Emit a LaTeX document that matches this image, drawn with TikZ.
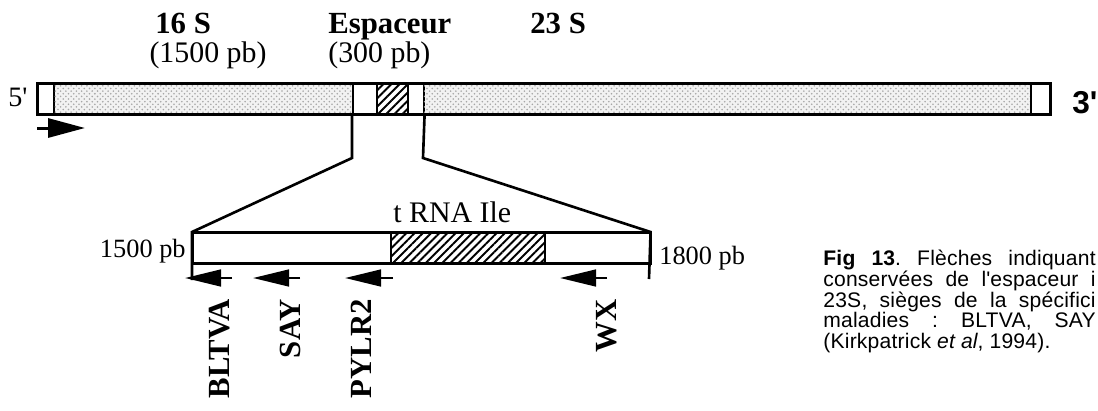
\documentclass[tikz,border=0pt]{standalone}
\usepackage{fontspec}
\setmainfont{Liberation Serif}
\newfontfamily\capfont{Liberation Sans}[LetterSpace=1]
\newfontfamily\endfont{Liberation Sans}
\usepackage{tikz}
\usetikzlibrary{arrows.meta, patterns, patterns.meta}
\frenchspacing
\tikzset{
  rrnseg/.style={
    draw, line width=0.9pt, inner sep=0pt, anchor=north west,
    minimum height=30*0.02cm, fill=white
  },
  stipple/.style={
    fill=gray!10, postaction={pattern=crosshatch dots, pattern color=gray!70}
  },
  hatchbox/.style={
    postaction={pattern={Lines[angle=45, distance=3.3pt, line width=1.1pt]}}
  },
  baroutline/.style={line width=1.5pt},
  zoomline/.style={line width=1.5pt, line join=miter},
  primerbig/.style={
    line width=1.7pt, -{Triangle[length=21pt, width=10.8pt]}
  },
  primer/.style={
    line width=1.4pt, -{Triangle[length=20.5pt, width=9.5pt]}
  },
  primerlabel/.style={
    font=\fontsize{17.5}{20}\selectfont\bfseries,
    rotate=90, anchor=east, inner sep=0pt
  },
  regiontitle/.style={
    font=\fontsize{17.5}{20}\selectfont\bfseries, inner sep=0pt
  },
  regionsize/.style={
    font=\fontsize{17}{20}\selectfont, inner sep=0pt
  },
  poslabel/.style={
    font=\fontsize{15}{18}\selectfont, inner sep=0pt
  },
  captionline/.style={
    font=\capfont\fontsize{12}{12}\selectfont, inner sep=0pt,
    anchor=base west
  },
}

\begin{document}
\begin{tikzpicture}[x=0.02cm, y=-0.02cm]
  \useasboundingbox (0,0) rectangle (1098,410);
  \clip (0,0) rectangle (1098,410);

  % ── Region titles ──────────────────────────────────────────────
  \node[regiontitle, anchor=base west] (t16) at (155,33) {16 S};
  \node[regionsize, anchor=base] (t16n) at (208,62) {(1500 pb)};
  \node[regiontitle, anchor=base west] (tesp) at (328,33) {Espaceur};
  \node[regionsize, anchor=base west] (tespn) at (328,62) {(300 pb)};
  \node[regiontitle, anchor=base west] (t23) at (530,33) {23 S};

  % ── Operon (top bar) ───────────────────────────────────────────
  \node[rrnseg, minimum width=16*0.02cm] (c5) at (37,83) {};
  \node[rrnseg, stipple, minimum width=299*0.02cm] (r16) at (53,83) {};
  \node[rrnseg, minimum width=24*0.02cm] (spA) at (352,83) {};
  \node[rrnseg, hatchbox, minimum width=31*0.02cm] (ileA) at (376,83) {};
  \node[rrnseg, minimum width=16*0.02cm] (spB) at (407,83) {};
  \node[rrnseg, stipple, minimum width=607*0.02cm] (r23) at (423,83) {};
  \node[rrnseg, minimum width=19*0.02cm] (c3) at (1030,83) {};
  \draw[baroutline] (c5.north west) rectangle (c3.south east);

  \node[font=\fontsize{16}{18}\selectfont, inner sep=0pt, anchor=base west]
    (end5) at (8,106) {5\textquotesingle};
  \node[font=\endfont\fontsize{18}{20}\selectfont\bfseries, inner sep=0pt,
        anchor=base west]
    (end3) at (1072,113) {3\textquotesingle};

  \coordinate (f5) at (37,128);
  \coordinate (f5tip) at (85,128);
  \draw[primerbig] (f5) -- (f5tip);

  % ── Spacer (enlarged) ──────────────────────────────────────────
  \node[rrnseg, minimum width=198*0.02cm] (insL) at (192,232) {};
  \node[rrnseg, hatchbox, minimum width=154*0.02cm] (trna) at (390,232) {};
  \node[rrnseg, minimum width=105*0.02cm] (insR) at (544,232) {};
  \draw[baroutline] (insL.north west) rectangle (insR.south east);

  \node[regionsize, anchor=base west] (trnalab) at (393,222) {t RNA Ile};
  \node[poslabel, anchor=base east] (pos1500) at (186,257) {1500 pb};
  \node[poslabel, anchor=base west] (pos1800) at (659,264) {1800 pb};

  % zoom lines
  \coordinate (bendL) at (352,158);
  \coordinate (bendR) at (423,158);
  \coordinate (tickL) at (192,280);
  \coordinate (tickR) at (649,279);
  \draw[zoomline] (spA.south west) -- (bendL) -- (insL.north west) -- (tickL);
  \draw[zoomline] (spB.south east) -- (bendR) -- (insR.north east) -- (tickR);

  % ── Primers ────────────────────────────────────────────────────
  \coordinate (bltva) at (232,278);  \coordinate (bltvatip) at (185,278);
  \coordinate (say) at (300,278);    \coordinate (saytip) at (253,278);
  \coordinate (pylr) at (393,278);   \coordinate (pylrtip) at (345,278);
  \coordinate (wx) at (607,278);     \coordinate (wxtip) at (560,278);
  \draw[primer] (bltva) -- (bltvatip);
  \draw[primer] (say) -- (saytip);
  \draw[primer] (pylr) -- (pylrtip);
  \draw[primer] (wx) -- (wxtip);

  \node[primerlabel] (lbltva) at (220,299) {BLTVA};
  \node[primerlabel] (lsay) at (290,299) {SAY};
  \node[primerlabel] (lpylr) at (361,299) {PYLR2};
  \node[primerlabel] (lwx) at (607,299) {WX};

  % ── Caption ────────────────────────────────────────────────────
  \node[captionline] (cap1) at (823,265)
    {\makebox[155pt][s]{\textbf{Fig 13}. Flèches indiquant}};
  \node[captionline] (cap2) at (823,286)
    {\makebox[155pt][s]{conservées de l\textquotesingle espaceur i}};
  \node[captionline] (cap3) at (823,307)
    {\makebox[155pt][s]{23S, sièges de la spécifici}};
  \node[captionline] (cap4) at (823,327)
    {\makebox[155pt][s]{maladies : BLTVA, SAY}};
  \node[captionline] (cap5) at (823,348)
    {(Kirkpatrick \textit{et al}, 1994).};
\end{tikzpicture}
\end{document}
